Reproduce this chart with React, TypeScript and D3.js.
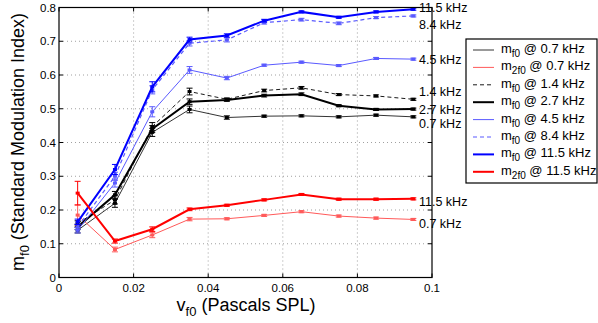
import React from "react";
import * as d3 from "d3";

const xs = [0.005, 0.015, 0.025, 0.035, 0.045, 0.055, 0.065, 0.075, 0.085, 0.095];
const xTicks = [0, 0.02, 0.04, 0.06, 0.08, 0.1];
const yTicks = [0, 0.1, 0.2, 0.3, 0.4, 0.5, 0.6, 0.7, 0.8];

const mf0_07 = [0.14, 0.22, 0.43, 0.498, 0.474, 0.478, 0.479, 0.476, 0.481, 0.476];
const m2f0_07 = [0.185, 0.083, 0.126, 0.173, 0.174, 0.184, 0.195, 0.182, 0.176, 0.172];
const mf0_14 = [0.16, 0.23, 0.447, 0.551, 0.528, 0.554, 0.562, 0.542, 0.538, 0.528];
const mf0_27 = [0.15, 0.245, 0.44, 0.521, 0.526, 0.539, 0.543, 0.509, 0.498, 0.499];
const mf0_45 = [0.14, 0.28, 0.491, 0.615, 0.591, 0.629, 0.638, 0.628, 0.649, 0.647];
const mf0_84 = [0.15, 0.3, 0.556, 0.694, 0.704, 0.755, 0.764, 0.753, 0.77, 0.775];
const mf0_115 = [0.165, 0.32, 0.565, 0.705, 0.717, 0.761, 0.787, 0.771, 0.787, 0.795];
const m2f0_115 = [0.25, 0.108, 0.143, 0.202, 0.214, 0.23, 0.246, 0.232, 0.232, 0.233];

const err_07 = [0.008, 0.012, 0.012, 0.01, 0.005, 0.003, 0.003, 0.003, 0.003, 0.003];
const err2_07 = [0.03, 0.007, 0.008, 0.005, 0.003, 0.003, 0.003, 0.003, 0.003, 0.003];
const err_14 = [0.008, 0.012, 0.012, 0.01, 0.004, 0.004, 0.004, 0.003, 0.003, 0.003];
const err_27 = [0.008, 0.01, 0.01, 0.008, 0.004, 0.004, 0.004, 0.003, 0.003, 0.003];
const err_45 = [0.008, 0.012, 0.015, 0.01, 0.005, 0.003, 0.003, 0.003, 0.003, 0.003];
const err_84 = [0.008, 0.012, 0.012, 0.008, 0.006, 0.004, 0.004, 0.004, 0.003, 0.003];
const err_115 = [0.008, 0.015, 0.015, 0.007, 0.005, 0.004, 0.003, 0.003, 0.003, 0.003];
const err2_115 = [0.035, 0.006, 0.007, 0.004, 0.003, 0.003, 0.003, 0.003, 0.003, 0.003];

const legendLabels = [
  ["m", "f0", " @ 0.7 kHz"],
  ["m", "2f0", " @ 0.7 kHz"],
  ["m", "f0", " @ 1.4 kHz"],
  ["m", "f0", " @ 2.7 kHz"],
  ["m", "f0", " @ 4.5 kHz"],
  ["m", "f0", " @ 8.4 kHz"],
  ["m", "f0", " @ 11.5 kHz"],
  ["m", "2f0", " @ 11.5 kHz"],
];

const endLabels = ["11.5 kHz", "8.4 kHz", "4.5 kHz", "1.4 kHz", "2.7 kHz", "0.7 kHz", "11.5 kHz", "0.7 kHz"];
const endLabelValues = [0.8, 0.751, 0.645, 0.55, 0.499, 0.455, 0.226, 0.159];

interface Series { vals: number[]; err: number[]; color: string; width: number; dash?: string; }

const series: Series[] = [
  { vals: mf0_07, err: err_07, color: "#000000", width: 0.8 },
  { vals: m2f0_07, err: err2_07, color: "#ff5a5a", width: 1 },
  { vals: mf0_14, err: err_14, color: "#000000", width: 0.9, dash: "4,3" },
  { vals: mf0_27, err: err_27, color: "#000000", width: 2 },
  { vals: mf0_45, err: err_45, color: "#5a5aff", width: 1 },
  { vals: mf0_84, err: err_84, color: "#5a5aff", width: 1.2, dash: "4,3" },
  { vals: mf0_115, err: err_115, color: "#0000ff", width: 2 },
  { vals: m2f0_115, err: err2_115, color: "#ff0000", width: 2 },
];

const F = "Liberation Sans, Arial, Helvetica, sans-serif";

export default function App() {
  const W = 598, H = 323;
  const x = d3.scaleLinear().domain([0, 0.1]).range([59, 432]);
  const y = d3.scaleLinear().domain([0, 0.8]).range([277.5, 7.5]);
  const line = d3.line<number>().x((_, i) => x(xs[i])).y((v) => y(v));

  const legX = 466, legY = 39, legW = 131, legH = 144;
  return (
    <svg width={W} height={H} style={{ position: "absolute", left: 0, top: 0, background: "#fff" }} fontFamily={F}>
      {/* grid */}
      {xTicks.slice(1, -1).map((t) => (
        <line key={"gx" + t} x1={x(t)} x2={x(t)} y1={y(0)} y2={y(0.8)} stroke="#888" strokeWidth={0.8} strokeDasharray="1,3" />
      ))}
      {yTicks.slice(1, -1).map((t) => (
        <line key={"gy" + t} x1={x(0)} x2={x(0.1)} y1={y(t)} y2={y(t)} stroke="#888" strokeWidth={0.8} strokeDasharray="1,3" />
      ))}
      {/* ticks */}
      {xTicks.map((t) => (
        <g key={"tx" + t}>
          <line x1={x(t)} x2={x(t)} y1={y(0)} y2={y(0) - 4} stroke="#000" />
          <line x1={x(t)} x2={x(t)} y1={y(0.8)} y2={y(0.8) + 4} stroke="#000" />
          <text x={x(t)} y={292} fontSize={11.5} textAnchor="middle">{String(t)}</text>
        </g>
      ))}
      {yTicks.map((t) => (
        <g key={"ty" + t}>
          <line x1={x(0)} x2={x(0) + 4} y1={y(t)} y2={y(t)} stroke="#000" />
          <line x1={x(0.1)} x2={x(0.1) - 4} y1={y(t)} y2={y(t)} stroke="#000" />
          <text x={56} y={y(t) + 4} fontSize={11.5} textAnchor="end">{String(t)}</text>
        </g>
      ))}
      {/* series */}
      {series.map((s, si) => (
        <g key={"s" + si}>
          <path d={line(s.vals) || ""} fill="none" stroke={s.color} strokeWidth={s.width} strokeDasharray={s.dash} />
          {s.vals.map((v, i) => (
            <g key={i} stroke={s.color} strokeWidth={1}>
              <line x1={x(xs[i])} x2={x(xs[i])} y1={y(v - s.err[i])} y2={y(v + s.err[i])} />
              <line x1={x(xs[i]) - 3} x2={x(xs[i]) + 3} y1={y(v - s.err[i])} y2={y(v - s.err[i])} />
              <line x1={x(xs[i]) - 3} x2={x(xs[i]) + 3} y1={y(v + s.err[i])} y2={y(v + s.err[i])} />
              <rect x={x(xs[i]) - 2} y={y(v) - 1.5} width={4} height={3} fill={s.color} stroke="none" />
            </g>
          ))}
        </g>
      ))}
      {/* box */}
      <rect x={x(0)} y={y(0.8)} width={x(0.1) - x(0)} height={y(0) - y(0.8)} fill="none" stroke="#000" strokeWidth={1.2} />
      {/* end labels */}
      {endLabels.map((l, i) => (
        <text key={"el" + i} x={419} y={y(endLabelValues[i]) + 4.5} fontSize={12.5}>{l}</text>
      ))}
      {/* axis labels */}
      <text x={246} y={311} fontSize={18} textAnchor="middle">
        v<tspan fontSize={13} dy={5}>f0</tspan><tspan dy={-5}> (Pascals SPL)</tspan>
      </text>
      <text transform={`translate(24,${142}) rotate(-90)`} fontSize={18} textAnchor="middle">
        m<tspan fontSize={13} dy={5}>f0</tspan><tspan dy={-5}> (Standard Modulation Index)</tspan>
      </text>
      {/* legend */}
      <rect x={legX} y={legY} width={legW} height={legH} fill="#fff" stroke="#000" strokeWidth={1.2} />
      {series.map((s, i) => {
        const ry = legY + 11 + i * 17.4;
        return (
          <g key={"lg" + i}>
            <line x1={473} x2={494} y1={ry} y2={ry} stroke={s.color} strokeWidth={s.width} strokeDasharray={s.dash} />
            <text x={501} y={ry + 3} fontSize={13}>
              {legendLabels[i][0]}<tspan fontSize={10} dy={4}>{legendLabels[i][1]}</tspan><tspan dy={-4}>{legendLabels[i][2]}</tspan>
            </text>
          </g>
        );
      })}
    </svg>
  );
}
